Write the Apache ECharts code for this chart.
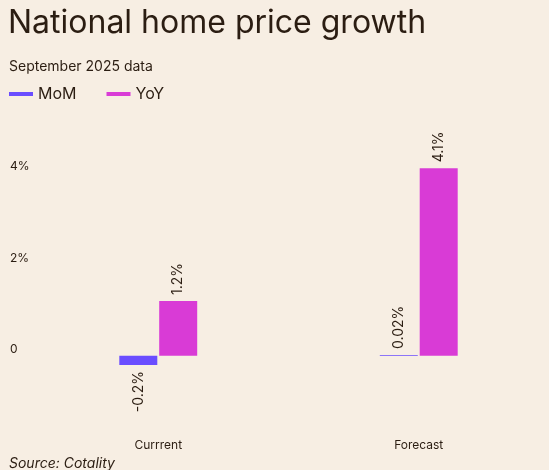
<!DOCTYPE html>
<html>
<head>
<meta charset="UTF-8">
<title>National home price growth</title>
<script src="https://cdn.jsdelivr.net/npm/echarts@6/dist/echarts.min.js"></script>
<style>
  html, body { margin: 0; padding: 0; background: #f7eee3; }
  #main { width: 549px; height: 470px; }
</style>
</head>
<body>
<div id="main"></div>
<script>
var categories = ['Currrent', 'Forecast'];
var momValues = [-0.2, 0.02];
var yoyValues = [1.2, 4.1];
var momLabels = ['-0.2%', '0.02%'];
var yoyLabels = ['1.2%', '4.1%'];
var yTicks = [0, 2, 4];

var ink = '#2b1d12';
var chart = echarts.init(document.getElementById('main'));

// rotated value label, above positive bars and below negative ones
function toItems(values, labels) {
  return values.map(function (v, i) {
    var neg = v < 0;
    return {
      value: v,
      label: {
        show: true,
        rotate: 90,
        position: neg ? 'bottom' : 'top',
        align: neg ? 'right' : 'left',
        verticalAlign: 'middle',
        distance: 6,
        fontSize: 14,
        color: ink,
        fontFamily: 'Inter',
        formatter: labels[i]
      }
    };
  });
}

chart.setOption({
  backgroundColor: '#f7eee3',
  textStyle: { fontFamily: 'Inter', color: ink },
  title: [
    { text: 'National home price growth', left: 3, top: 2,
      textStyle: { fontSize: 32, fontWeight: 'normal', color: ink, fontFamily: 'Inter' } },
    { text: 'September 2025 data', left: 4, top: 55,
      textStyle: { fontSize: 14, fontWeight: 'normal', color: ink, fontFamily: 'Inter' } },
    { text: 'Source: Cotality', left: 4, top: 452,
      textStyle: { fontSize: 14, fontWeight: 'normal', fontStyle: 'italic', color: ink, fontFamily: 'Inter' } }
  ],
  legend: {
    left: 4, top: 81,
    icon: 'rect', itemWidth: 24, itemHeight: 4, itemGap: 30,
    textStyle: { fontSize: 16, color: ink, fontFamily: 'Inter' },
    data: ['MoM', 'YoY']
  },
  grid: { left: 28, width: 630, top: 150, bottom: 41, containLabel: false },
  xAxis: {
    type: 'category',
    data: categories,
    axisLine: { show: false },
    axisTick: { show: false },
    axisLabel: { fontSize: 12, color: ink, margin: 10 }
  },
  yAxis: {
    type: 'value',
    min: -1.6, max: 4.5,
    splitLine: { show: false },
    axisLine: { show: false },
    axisTick: { show: false },
    axisLabel: {
      customValues: yTicks,
      align: 'left', margin: 18,
      verticalAlign: 'bottom',
      fontSize: 12, color: ink,
      formatter: function (v) { return v === 0 ? '0' : v + '%'; }
    }
  },
  series: [
    { name: 'MoM', type: 'bar', data: toItems(momValues, momLabels), barWidth: 38, barGap: '5%',
      itemStyle: { color: '#6a4dff' } },
    { name: 'YoY', type: 'bar', data: toItems(yoyValues, yoyLabels), barWidth: 38,
      itemStyle: { color: '#d93bd6' } }
  ]
});
</script>
</body>
</html>
